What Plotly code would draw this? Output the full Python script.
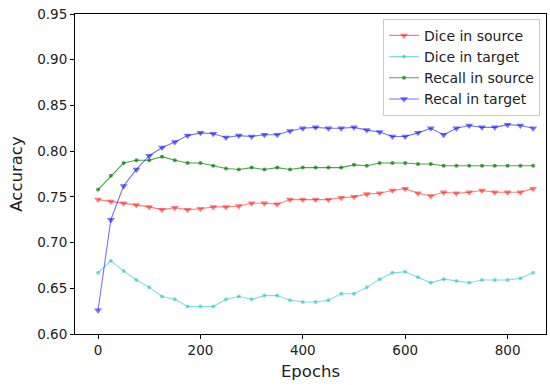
import plotly.graph_objects as go

epochs = list(range(0, 875, 25))

dice_source = [0.747, 0.745, 0.743, 0.741, 0.739, 0.736, 0.738, 0.736, 0.737, 0.739, 0.739,
               0.740, 0.743, 0.743, 0.742, 0.747, 0.747, 0.747, 0.747, 0.749, 0.750, 0.753,
               0.754, 0.757, 0.759, 0.754, 0.751, 0.755, 0.754, 0.755, 0.757, 0.755, 0.755,
               0.755, 0.759]
dice_target = [0.667, 0.680, 0.669, 0.659, 0.651, 0.641, 0.638, 0.630, 0.630, 0.630, 0.638,
               0.641, 0.638, 0.642, 0.642, 0.637, 0.635, 0.635, 0.637, 0.644, 0.644, 0.651,
               0.660, 0.667, 0.668, 0.662, 0.656, 0.660, 0.658, 0.656, 0.659, 0.659, 0.659,
               0.661, 0.667]
recall_source = [0.758, 0.773, 0.787, 0.790, 0.790, 0.794, 0.790, 0.787, 0.787, 0.784, 0.781,
                 0.780, 0.782, 0.780, 0.782, 0.780, 0.782, 0.782, 0.782, 0.782, 0.785, 0.784,
                 0.787, 0.787, 0.787, 0.786, 0.786, 0.784, 0.784, 0.784, 0.784, 0.784, 0.784,
                 0.784, 0.784]
recall_target = [0.626, 0.725, 0.762, 0.780, 0.795, 0.804, 0.810, 0.817, 0.820, 0.819, 0.815,
                 0.817, 0.816, 0.818, 0.818, 0.822, 0.825, 0.826, 0.825, 0.825, 0.826, 0.823,
                 0.821, 0.816, 0.816, 0.820, 0.825, 0.818, 0.825, 0.828, 0.826, 0.826, 0.829,
                 0.828, 0.825]

series = [
    ("Dice in source", dice_source, "rgba(255,0,0,0.5)", "triangle-down", 7),
    ("Dice in target", dice_target, "rgba(0,191,191,0.5)", "circle", 4),
    ("Recall in source", recall_source, "rgba(0,128,0,0.7)", "circle", 4),
    ("Recal in target", recall_target, "rgba(0,0,255,0.55)", "triangle-down", 7),
]

fig = go.Figure()
for name, vals, col, sym, sz in series:
    fig.add_trace(go.Scatter(
        x=epochs, y=vals, name=name, mode="lines+markers",
        line=dict(color=col, width=1.1),
        marker=dict(symbol=sym, size=sz, color=col, line=dict(width=0)),
    ))

axis_common = dict(
    showline=True, linecolor="black", linewidth=1, mirror=True,
    showgrid=False, zeroline=False, ticks="outside", ticklen=4,
    tickcolor="black", automargin=False,
    tickfont=dict(family="DejaVu Sans", size=13.5, color="#222"),
)

fig.update_layout(
    width=550, height=385,
    margin=dict(l=75, r=4, t=14, b=51),
    paper_bgcolor="white", plot_bgcolor="white",
    font=dict(family="DejaVu Sans", color="#222"),
    xaxis=dict(range=[-45, 875], tickvals=[0, 200, 400, 600, 800],
               title=dict(text="Epochs", font=dict(size=16.5), standoff=8), **axis_common),
    yaxis=dict(range=[0.60, 0.95], dtick=0.05, tickformat=".2f",
               title=dict(text="Accuracy", font=dict(size=16.5), standoff=10), **axis_common),
    legend=dict(x=0.654, y=0.985, xanchor="left", yanchor="top",
                bgcolor="rgba(255,255,255,0.8)", bordercolor="#cccccc", borderwidth=1,
                font=dict(family="DejaVu Sans", size=14, color="#222"),
                tracegroupgap=0),
    showlegend=True,
)

fig.write_html("out.html", config={"displayModeBar": False},
               post_script="document.body.style.margin='0';")
